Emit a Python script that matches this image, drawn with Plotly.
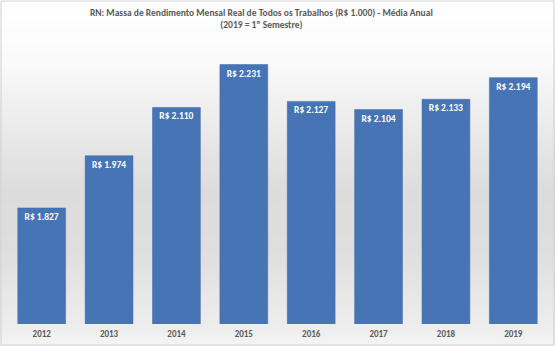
import plotly.graph_objects as go

anos = ["2012", "2013", "2014", "2015", "2016", "2017", "2018", "2019"]
valores = [1827, 1974, 2110, 2231, 2127, 2104, 2133, 2194]
rotulos = ["R$ 1.827", "R$ 1.974", "R$ 2.110", "R$ 2.231", "R$ 2.127", "R$ 2.104", "R$ 2.133", "R$ 2.194"]

W, H = 555, 346
ML, MR, MT, MB = 8, 8, 40, 22
PH = H - MT - MB
PW = W - ML - MR
FONT = "Calibri, Carlito, Lato, sans-serif"

fig = go.Figure()

# background gradient bands in pixel rows
def gray_at(py):
    stops = [(0, 255), (60, 250), (190, 220), (250, 222), (330, 238), (346, 245)]
    for (a, ga), (b, gb) in zip(stops, stops[1:]):
        if a <= py <= b:
            return ga + (gb - ga) * (py - a) / (b - a)
    return 255

step = 4
for py in range(0, H, step):
    g = int(round(gray_at(py + step / 2)))
    y1 = (H - MB - py) / PH
    y0 = (H - MB - py - step) / PH
    fig.add_shape(type="rect", xref="paper", yref="paper", x0=-0.02, x1=1.02, y0=y0, y1=y1,
                  fillcolor=f"rgb({g},{g},{g})", line_width=0, layer="below")

fig.add_trace(go.Bar(
    x=anos, y=valores, text=rotulos,
    textposition="inside", insidetextanchor="end",
    textfont=dict(family=FONT, size=9.5, color="white", weight="bold"),
    marker=dict(color="#4674B5", line=dict(color="#3E68A5", width=0.5)),
))

fig.update_layout(
    width=W, height=H,
    margin=dict(l=ML, r=MR, t=MT, b=MB),
    paper_bgcolor="white", plot_bgcolor="rgba(0,0,0,0)",
    bargap=0.29,
    showlegend=False,
    uniformtext=dict(minsize=9, mode="show"),
    xaxis=dict(showgrid=False, showline=False, ticks="",
               tickfont=dict(family=FONT, size=9, color="#595959", weight="bold"),
               ticklabelstandoff=3),
    yaxis=dict(range=[1500, 2300], visible=False),
)
fig.add_annotation(
    text="RN: Massa de Rendimento Mensal Real de Todos os Trabalhos (R$ 1.000) - Média Anual<br>(2019 = 1º Semestre)",
    xref="paper", yref="paper", x=(261 - ML) / PW, y=(H - MB - 5) / PH, xanchor="center", yanchor="top",
    showarrow=False, align="center",
    font=dict(family=FONT, size=9.5, color="#595959", weight="bold"),
)
fig.add_shape(type="rect", xref="paper", yref="paper",
              x0=-(ML - 1) / PW, x1=1 + (MR - 1) / PW,
              y0=-(MB - 1) / PH, y1=1 + (MT - 1) / PH,
              line=dict(color="#D0D0D0", width=1))

fig.write_html("out.html")
